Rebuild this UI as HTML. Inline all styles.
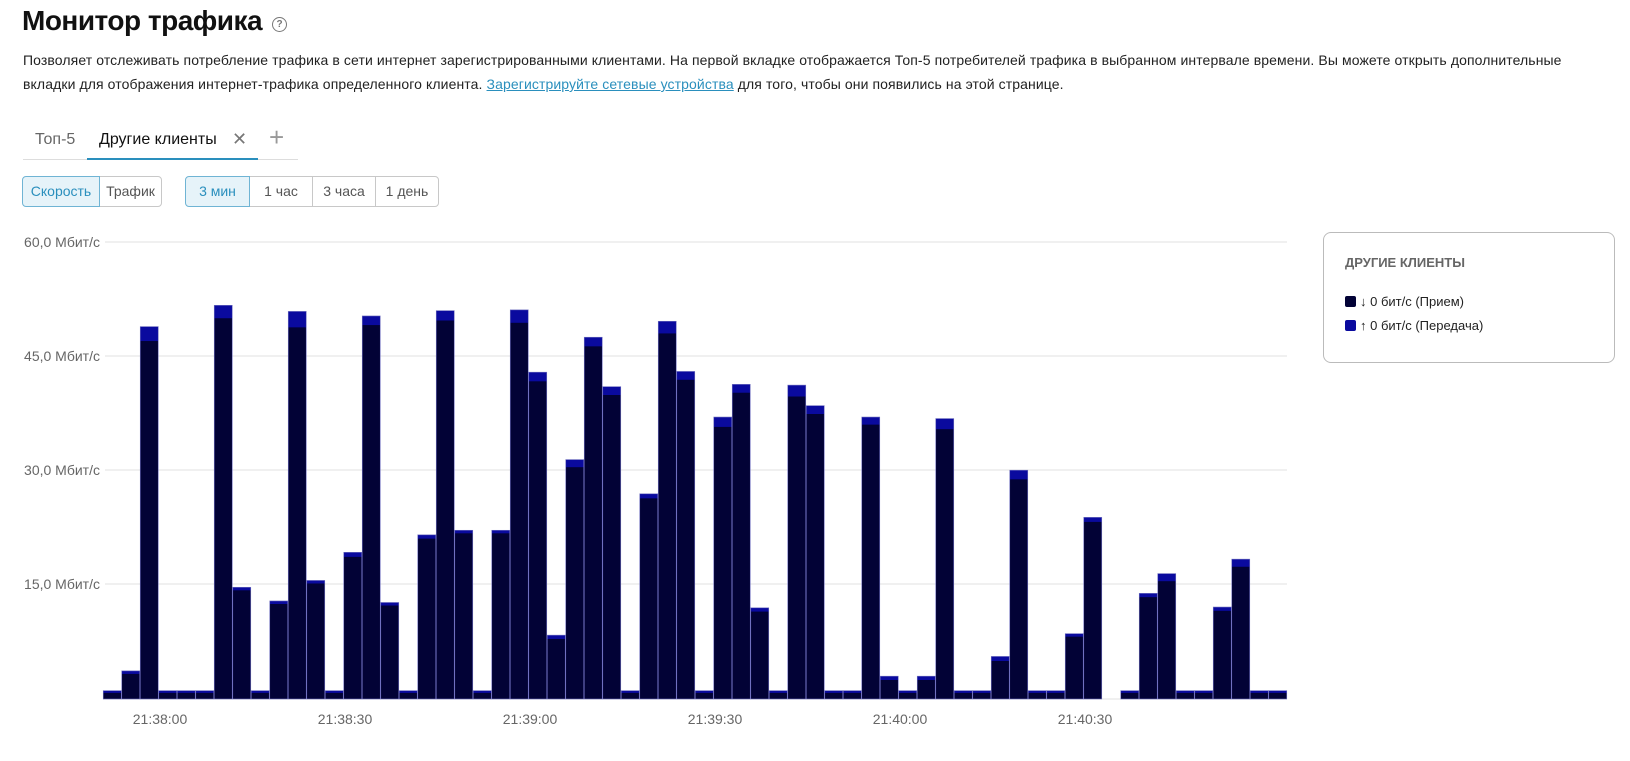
<!DOCTYPE html>
<html><head><meta charset="utf-8">
<style>
body{margin:0;background:#fff;font-family:"Liberation Sans","Noto Sans CJK SC",sans-serif;color:#222;}
.wrap{position:relative;width:1630px;height:761px;overflow:hidden;}
h1{position:absolute;left:22px;top:5px;margin:0;font-size:28px;font-weight:bold;color:#111;letter-spacing:-0.5px;}
.help{position:absolute;left:272px;top:17px;width:13px;height:13px;border:1.5px solid #777;border-radius:50%;font-size:10px;line-height:13px;text-align:center;color:#777;font-weight:bold;}
.desc{position:absolute;left:23px;top:48px;width:1600px;font-size:14px;line-height:24px;color:#222;letter-spacing:0.1px;}
.desc a{color:#2a8fbd;text-decoration:underline;}
.tab{position:absolute;top:131px;font-size:16px;}
.tabline{position:absolute;left:23px;top:159px;width:275px;height:1px;background:#ddd;}
.tabact{position:absolute;left:87px;top:158px;width:171px;height:2px;background:#2a8fbd;}
.btn{position:absolute;top:176px;height:31px;box-sizing:border-box;border:1px solid #c8c8c8;font-size:14px;line-height:29px;text-align:center;color:#555;background:#fff;}
.btn.act{background:#e6f3f9;border-color:#6fb4d4;color:#2a8fbd;z-index:2;}
.legend{position:absolute;left:1323px;top:232px;width:292px;height:131px;box-sizing:border-box;border:1px solid #bbb;border-radius:8px;}
.lt{position:absolute;left:21px;top:22px;font-size:13px;font-weight:bold;color:#666;}
.li{position:absolute;left:21px;font-size:13px;color:#222;}
.sw{display:inline-block;width:11px;height:11px;border-radius:2px;vertical-align:-1px;margin-right:4px;}
</style></head><body><div class="wrap">
<h1>Монитор трафика</h1><div class="help">?</div>
<div class="desc">Позволяет отслеживать потребление трафика в сети интернет зарегистрированными клиентами. На первой вкладке отображается Топ-5 потребителей трафика в выбранном интервале времени. Вы можете открыть дополнительные<br>вкладки для отображения интернет-трафика определенного клиента. <a>Зарегистрируйте сетевые устройства</a> для того, чтобы они появились на этой странице.</div>
<div class="tab" style="left:35px;color:#666">Топ-5</div>
<div class="tab" style="left:99px;color:#111">Другие клиенты</div>
<div class="tab" style="left:232px;color:#777;font-size:18px;top:129px">✕</div>
<div class="tab" style="left:269px;color:#999;font-size:26px;top:122px;font-weight:300">+</div>
<div class="tabline"></div><div class="tabact"></div>
<div class="btn act" style="left:22px;width:78px;border-radius:4px 0 0 4px">Скорость</div>
<div class="btn" style="left:99px;width:63px;border-radius:0 4px 4px 0">Трафик</div>
<div class="btn act" style="left:185px;width:65px;border-radius:4px 0 0 4px">3 мин</div>
<div class="btn" style="left:249px;width:64px">1 час</div>
<div class="btn" style="left:312px;width:64px">3 часа</div>
<div class="btn" style="left:375px;width:64px;border-radius:0 4px 4px 0">1 день</div>
<svg id="ch" width="1630" height="761" style="position:absolute;left:0;top:0" font-family="Liberation Sans, sans-serif" font-size="14" fill="#666">
<g stroke="#e6e6e6" stroke-width="1.2">
<line x1="105" x2="1287" y1="242" y2="242"/><line x1="105" x2="1287" y1="356" y2="356"/>
<line x1="105" x2="1287" y1="470" y2="470"/><line x1="105" x2="1287" y1="584" y2="584"/>
<line x1="103" x2="1287" y1="699" y2="699"/>
</g>
<g text-anchor="end">
<text x="100" y="247">60,0 Мбит/с</text><text x="100" y="361">45,0 Мбит/с</text>
<text x="100" y="475">30,0 Мбит/с</text><text x="100" y="589">15,0 Мбит/с</text>
</g>
<g text-anchor="middle">
<text x="160" y="724">21:38:00</text><text x="345" y="724">21:38:30</text>
<text x="530" y="724">21:39:00</text><text x="715" y="724">21:39:30</text>
<text x="900" y="724">21:40:00</text><text x="1085" y="724">21:40:30</text>
</g>
<g id="bars"></g>
</svg>
<div class="legend"><div class="lt">ДРУГИЕ КЛИЕНТЫ</div>
<div class="li" style="top:61px"><span class="sw" style="background:#020236"></span>↓ 0 бит/с (Прием)</div>
<div class="li" style="top:85px"><span class="sw" style="background:#0a0a9e"></span>↑ 0 бит/с (Передача)</div></div>
</div>
<script>
var T=1.1,D=0.8;
var d=[[T,D],[3.7,3.3],[49,47.1],[T,D],[T,D],[T,D],[51.8,50.1],[14.7,14.3],[T,D],[12.9,12.5],[51,48.9],[15.6,15.2],[T,D],[19.3,18.7],[50.4,49.2],[12.7,12.3],[T,D],[21.6,21.1],[51.1,49.8],[22.2,21.8],[T,D],[22.2,21.8],[51.2,49.5],[43,41.8],[8.4,7.9],[31.5,30.5],[47.6,46.4],[41.1,40],[T,D],[27,26.4],[49.7,48.1],[43.1,42],[T,D],[37.1,35.8],[41.4,40.3],[12,11.5],[T,D],[41.3,39.8],[38.6,37.5],[T,D],[T,D],[37.1,36.1],[3,2.5],[T,D],[3,2.5],[36.9,35.5],[T,D],[T,D],[5.6,5],[30.1,28.9],[T,D],[T,D],[8.6,8.2],[23.9,23.3],[0,0],[T,D],[13.9,13.4],[16.5,15.5],[T,D],[T,D],[12.1,11.6],[18.4,17.4],[T,D],[T,D]];
var s='',b=699,k=7.6,w=18.5;
for(var i=0;i<d.length;i++){if(!d[i][0])continue;var x=103+i*w;
var yt=b-d[i][0]*k,yd=b-d[i][1]*k;
s+='<rect x="'+x+'" y="'+yt+'" width="'+w+'" height="'+(b-yt)+'" fill="#0a0a9e"/>';
s+='<rect x="'+x+'" y="'+yd+'" width="'+w+'" height="'+(b-yd)+'" fill="#020236"/>';
s+='<rect x="'+(x+0.25)+'" y="'+yt+'" width="'+(w-0.5)+'" height="'+(b-yt)+'" fill="none" stroke="#7070c0" stroke-width="0.6"/>';}
document.getElementById('bars').innerHTML=s;
</script>
</body></html>
